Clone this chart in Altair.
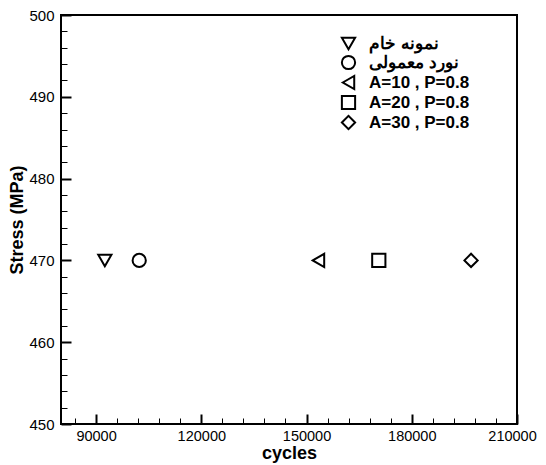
import altair as alt
import pandas as pd

# data
labels = ["نمونه خام", "نورد معمولی", "A=10 , P=0.8", "A=20 , P=0.8", "A=30 , P=0.8"]
shapes = ["triangle-down", "circle", "triangle-left", "square", "diamond"]
cycles = [92500, 102300, 153400, 170600, 196900]
stress = [470, 470, 470, 470, 470]

x_major = [90000, 120000, 150000, 180000, 210000]
x_minor = list(range(84000, 210001, 6000))
y_major = [450, 460, 470, 480, 490, 500]
y_minor = list(range(450, 501, 2))

df = pd.DataFrame({"cycles": cycles, "stress": stress, "series": labels})

FONT = "Liberation Sans"

xscale = alt.Scale(domain=[80000, 210000], nice=False, zero=False)
yscale = alt.Scale(domain=[450, 500], nice=False, zero=False)

main = alt.Chart(df).mark_point(
    filled=False, size=175, strokeWidth=2, color="black", opacity=1
).encode(
    x=alt.X("cycles:Q", scale=xscale, axis=alt.Axis(
        orient="bottom", values=x_major, format="d", title="cycles",
        offset=-10, tickSize=10, tickWidth=2, tickColor="black",
        domain=False, grid=False, labelFont=FONT, labelFontSize=14.5,
        labelColor="black", labelPadding=5, labelFlush=False, labelOverlap=False,
        labelOffset={"condition": {"test": "datum.value >= 210000", "value": -5}, "value": 0},
        titleFont=FONT, titleFontSize=18, titleFontWeight="bold",
        titleColor="black", titlePadding=2)),
    y=alt.Y("stress:Q", scale=yscale, axis=alt.Axis(
        orient="left", values=y_major, format="d", title="Stress (MPa)",
        offset=-10, tickSize=10, tickWidth=2, tickColor="black",
        domain=False, grid=False, labelFont=FONT, labelFontSize=15,
        labelColor="black", labelPadding=7, labelFlush=False, labelOverlap=False,
        titleFont=FONT, titleFontSize=18, titleFontWeight="bold",
        titleColor="black", titlePadding=2)),
    shape=alt.Shape("series:N", scale=alt.Scale(domain=labels, range=shapes),
                    legend=alt.Legend(
                        title=None, orient="none", legendX=279, legendY=20,
                        padding=0, labelFont=FONT, labelFontSize=17,
                        labelFontWeight="bold", labelColor="black",
                        labelOffset=12, symbolSize=175, symbolStrokeWidth=2,
                        symbolStrokeColor="black", rowPadding=-3,
                        labelLimit=300)),
)

minor = alt.Chart(df).mark_point(opacity=0).encode(
    x=alt.X("cycles:Q", scale=xscale, axis=alt.Axis(
        orient="bottom", values=x_minor, labels=False, title=None,
        offset=-6, tickSize=6, tickWidth=1, tickColor="black",
        domain=False, grid=False)),
    y=alt.Y("stress:Q", scale=yscale, axis=alt.Axis(
        orient="left", values=y_minor, labels=False, title=None,
        offset=-6, tickSize=6, tickWidth=1, tickColor="black",
        domain=False, grid=False)),
)

chart = alt.layer(main, minor).resolve_axis(
    x="independent", y="independent"
).properties(
    width=456, height=409,
    background="white",
    autosize=alt.AutoSizeParams(type="none"),
    padding={"left": 53, "top": 7, "right": 21, "bottom": 40},
).configure_view(
    stroke="black", strokeWidth=2
)

chart.save("out.html", embed_options={"renderer": "svg", "actions": False})
